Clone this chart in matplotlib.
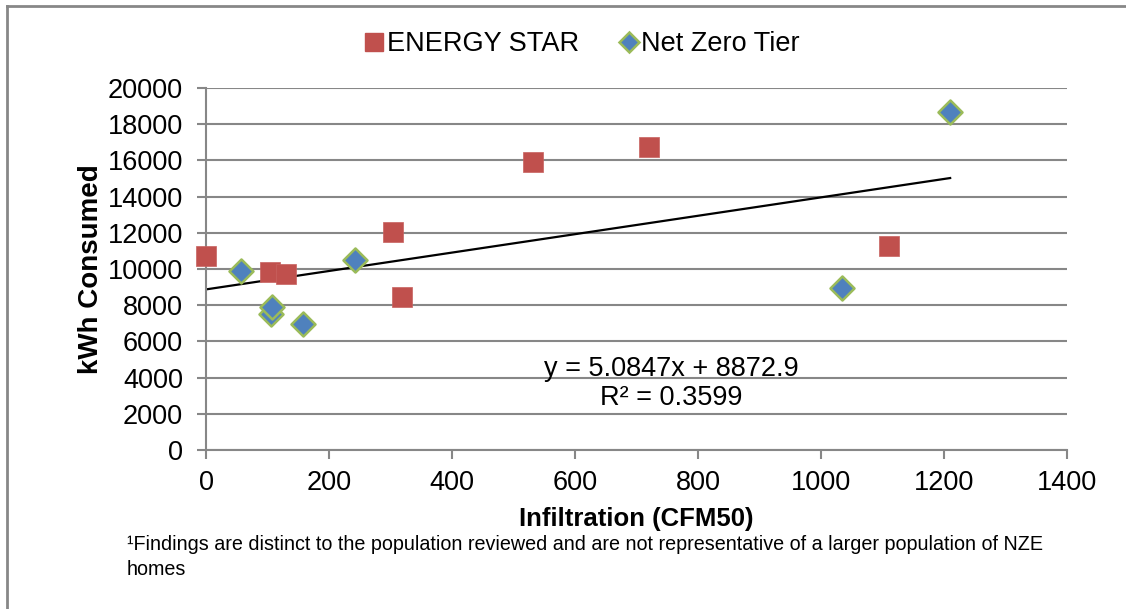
import matplotlib.pyplot as plt
import numpy as np
from matplotlib.lines import Line2D

plt.rcParams['font.family'] = ['Liberation Sans', 'DejaVu Sans']

# ENERGY STAR homes
es_cfm50 = [0, 104, 130, 319, 304, 531, 720, 1110]
es_kwh = [10700, 9850, 9700, 8450, 12050, 15900, 16750, 11250]

# Net Zero Tier homes
nz_cfm50 = [57, 106, 108, 157, 243, 1034, 1210]
nz_kwh = [9900, 7500, 7900, 6950, 10500, 8950, 18700]

# linear trend line (as reported)
slope = 5.0847
intercept = 8872.9
r_squared = 0.3599

x_ticks = [0, 200, 400, 600, 800, 1000, 1200, 1400]
y_ticks = [0, 2000, 4000, 6000, 8000, 10000, 12000, 14000, 16000, 18000, 20000]

red = '#C0504D'
blue = '#4F81BD'
green = '#9BBB59'
grey = '#878787'

fig = plt.figure(figsize=(11.26, 6.09), dpi=100)
ax = fig.add_axes([206 / 1126, 1 - 450 / 609, (1067 - 206) / 1126, (450 - 88) / 609])

# gridlines
ax.set_axisbelow(True)
ax.yaxis.grid(True, color=grey, linewidth=1.5)

ax.scatter(es_cfm50, es_kwh, marker='s', s=200, c=red, edgecolors='#C8625F',
           linewidths=0.5, zorder=3, clip_on=False)
ax.scatter(nz_cfm50, nz_kwh, marker='D', s=150, c=blue, edgecolors=green,
           linewidths=1.8, zorder=3, clip_on=False)

all_x = np.array(es_cfm50 + nz_cfm50)
xl = np.array([all_x.min(), all_x.max()])
ax.plot(xl, slope * xl + intercept, color='black', linewidth=1.6, zorder=2)

ax.text(757, 3650, f'y = {slope}x + {intercept}\nR² = {r_squared}',
        ha='center', va='center', fontsize=19.5, linespacing=1.15)

ax.set_xlim(0, 1400)
ax.set_ylim(0, 20000)
ax.set_xticks(x_ticks)
ax.set_yticks(y_ticks)
ax.tick_params(axis='both', direction='out', length=6.5, width=1.5, color=grey,
               labelsize=19.5)
ax.tick_params(axis='y', pad=10)
ax.tick_params(axis='x', pad=8)

for side in ['top', 'right']:
    ax.spines[side].set_visible(False)
for side in ['left', 'bottom']:
    ax.spines[side].set_color(grey)
    ax.spines[side].set_linewidth(1.5)

ax.set_xlabel('Infiltration (CFM50)', fontsize=18.5, fontweight='bold', labelpad=8)
ax.set_ylabel('kWh Consumed', fontsize=20, fontweight='bold', labelpad=3)

handles = [
    Line2D([], [], linestyle='none', marker='s', markersize=13,
           markerfacecolor=red, markeredgecolor=red),
    Line2D([], [], linestyle='none', marker='D', markersize=10.5,
           markerfacecolor=blue, markeredgecolor=green, markeredgewidth=1.8),
]
fig.legend(handles, ['ENERGY STAR', 'Net Zero Tier'], loc='center',
           bbox_to_anchor=(581 / 1126, 1 - 44 / 609), ncol=2, frameon=False,
           fontsize=19.5, handletextpad=0.0, columnspacing=1.4, handlelength=0.9)

fig.text(127 / 1126, 1 - 557 / 609,
         '¹Findings are distinct to the population reviewed and are not representative of a larger population of NZE\nhomes',
         ha='left', va='center', fontsize=14.2, linespacing=1.45)

# chart border (left and top edges visible)
fig.add_artist(Line2D([7 / 1126, 7 / 1126], [0, 1 - 6 / 609],
                      transform=fig.transFigure, color=grey, linewidth=2))
fig.add_artist(Line2D([7 / 1126, 1], [1 - 6 / 609, 1 - 6 / 609],
                      transform=fig.transFigure, color=grey, linewidth=2))

fig.savefig('out.png', dpi=100)
